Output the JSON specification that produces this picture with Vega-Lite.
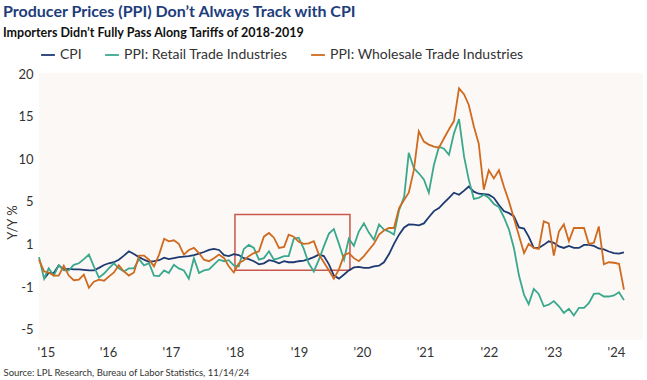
{
  "$schema": "https://vega.github.io/schema/vega-lite/v6.json",
  "width": 604,
  "height": 267,
  "autosize": {"type": "none"},
  "padding": {"left": 39, "top": 73, "right": 4, "bottom": 40},
  "background": "#ffffff",
  "title": {
    "text": "Producer Prices (PPI) Don’t Always Track with CPI",
    "subtitle": "Importers Didn’t Fully Pass Along Tariffs of 2018-2019",
    "anchor": "start",
    "frame": "group",
    "dx": -36,
    "offset": 8,
    "font": "Lato",
    "fontSize": 16,
    "fontWeight": "bold",
    "color": "#1e3d7b",
    "subtitleFont": "Lato",
    "subtitleFontSize": 12.5,
    "subtitleFontWeight": "bold",
    "subtitleColor": "#111111",
    "subtitlePadding": 7
  },
  "datasets": {
    "series": [
      {"date": "2015/01/01", "CPI": null, "PPI: Retail Trade Industries": 2.1, "PPI: Wholesale Trade Industries": 1.86},
      {"date": "2015/02/01", "CPI": 0.0, "PPI: Retail Trade Industries": 0.0, "PPI: Wholesale Trade Industries": 0.7},
      {"date": "2015/03/01", "CPI": 0.55, "PPI: Retail Trade Industries": 1.0, "PPI: Wholesale Trade Industries": 0.6},
      {"date": "2015/04/01", "CPI": 0.55, "PPI: Retail Trade Industries": 0.3, "PPI: Wholesale Trade Industries": 0.3},
      {"date": "2015/05/01", "CPI": 1.3, "PPI: Retail Trade Industries": 1.3, "PPI: Wholesale Trade Industries": 0.3},
      {"date": "2015/06/01", "CPI": 0.9, "PPI: Retail Trade Industries": 0.8, "PPI: Wholesale Trade Industries": 1.27},
      {"date": "2015/07/01", "CPI": 0.95, "PPI: Retail Trade Industries": 0.8, "PPI: Wholesale Trade Industries": 0.3},
      {"date": "2015/08/01", "CPI": 0.9, "PPI: Retail Trade Industries": 1.35, "PPI: Wholesale Trade Industries": -0.16},
      {"date": "2015/09/01", "CPI": 0.9, "PPI: Retail Trade Industries": 1.5, "PPI: Wholesale Trade Industries": -0.1},
      {"date": "2015/10/01", "CPI": 0.85, "PPI: Retail Trade Industries": 1.9, "PPI: Wholesale Trade Industries": 0.4},
      {"date": "2015/11/01", "CPI": 0.8, "PPI: Retail Trade Industries": 2.35, "PPI: Wholesale Trade Industries": -0.9},
      {"date": "2015/12/01", "CPI": 0.8, "PPI: Retail Trade Industries": 1.2, "PPI: Wholesale Trade Industries": -0.3},
      {"date": "2016/01/01", "CPI": 1.05, "PPI: Retail Trade Industries": 0.1, "PPI: Wholesale Trade Industries": -0.1},
      {"date": "2016/02/01", "CPI": 1.33, "PPI: Retail Trade Industries": 0.5, "PPI: Wholesale Trade Industries": -0.2},
      {"date": "2016/03/01", "CPI": 1.5, "PPI: Retail Trade Industries": 1.0, "PPI: Wholesale Trade Industries": 0.2},
      {"date": "2016/04/01", "CPI": 1.6, "PPI: Retail Trade Industries": 1.5, "PPI: Wholesale Trade Industries": 0.6},
      {"date": "2016/05/01", "CPI": 1.85, "PPI: Retail Trade Industries": 1.0, "PPI: Wholesale Trade Industries": 1.3},
      {"date": "2016/06/01", "CPI": 2.25, "PPI: Retail Trade Industries": 0.7, "PPI: Wholesale Trade Industries": 0.7},
      {"date": "2016/07/01", "CPI": 2.67, "PPI: Retail Trade Industries": 1.0, "PPI: Wholesale Trade Industries": 0.3},
      {"date": "2016/08/01", "CPI": 2.4, "PPI: Retail Trade Industries": 1.0, "PPI: Wholesale Trade Industries": 0.6},
      {"date": "2016/09/01", "CPI": 2.1, "PPI: Retail Trade Industries": 1.9, "PPI: Wholesale Trade Industries": 2.25},
      {"date": "2016/10/01", "CPI": 1.85, "PPI: Retail Trade Industries": 1.3, "PPI: Wholesale Trade Industries": 2.25},
      {"date": "2016/11/01", "CPI": 1.65, "PPI: Retail Trade Industries": 1.5, "PPI: Wholesale Trade Industries": 1.85},
      {"date": "2016/12/01", "CPI": 1.7, "PPI: Retail Trade Industries": 0.3, "PPI: Wholesale Trade Industries": 1.2},
      {"date": "2017/01/01", "CPI": 1.8, "PPI: Retail Trade Industries": 0.25, "PPI: Wholesale Trade Industries": 2.35},
      {"date": "2017/02/01", "CPI": 2.05, "PPI: Retail Trade Industries": 0.8, "PPI: Wholesale Trade Industries": 3.9},
      {"date": "2017/03/01", "CPI": 1.9, "PPI: Retail Trade Industries": 0.55, "PPI: Wholesale Trade Industries": 3.65},
      {"date": "2017/04/01", "CPI": 2.0, "PPI: Retail Trade Industries": 1.35, "PPI: Wholesale Trade Industries": 3.75},
      {"date": "2017/05/01", "CPI": 2.1, "PPI: Retail Trade Industries": 1.0, "PPI: Wholesale Trade Industries": 3.4},
      {"date": "2017/06/01", "CPI": 2.15, "PPI: Retail Trade Industries": 0.8, "PPI: Wholesale Trade Industries": 2.35},
      {"date": "2017/07/01", "CPI": 2.2, "PPI: Retail Trade Industries": 0.0, "PPI: Wholesale Trade Industries": 2.8},
      {"date": "2017/08/01", "CPI": 2.3, "PPI: Retail Trade Industries": 2.0, "PPI: Wholesale Trade Industries": 3.0},
      {"date": "2017/09/01", "CPI": 2.45, "PPI: Retail Trade Industries": 0.55, "PPI: Wholesale Trade Industries": 2.5},
      {"date": "2017/10/01", "CPI": 2.6, "PPI: Retail Trade Industries": 0.8, "PPI: Wholesale Trade Industries": 1.85},
      {"date": "2017/11/01", "CPI": 2.8, "PPI: Retail Trade Industries": 0.9, "PPI: Wholesale Trade Industries": 1.7},
      {"date": "2017/12/01", "CPI": 2.9, "PPI: Retail Trade Industries": 1.37, "PPI: Wholesale Trade Industries": 2.0},
      {"date": "2018/01/01", "CPI": 2.8, "PPI: Retail Trade Industries": 1.85, "PPI: Wholesale Trade Industries": 2.35},
      {"date": "2018/02/01", "CPI": 2.3, "PPI: Retail Trade Industries": 1.7, "PPI: Wholesale Trade Industries": 2.0},
      {"date": "2018/03/01", "CPI": 2.2, "PPI: Retail Trade Industries": 1.8, "PPI: Wholesale Trade Industries": 1.2},
      {"date": "2018/04/01", "CPI": 2.4, "PPI: Retail Trade Industries": 1.3, "PPI: Wholesale Trade Industries": 0.6},
      {"date": "2018/05/01", "CPI": 2.3, "PPI: Retail Trade Industries": 1.2, "PPI: Wholesale Trade Industries": 1.5},
      {"date": "2018/06/01", "CPI": 2.0, "PPI: Retail Trade Industries": 2.9, "PPI: Wholesale Trade Industries": 1.8},
      {"date": "2018/07/01", "CPI": 1.9, "PPI: Retail Trade Industries": 3.3, "PPI: Wholesale Trade Industries": 2.2},
      {"date": "2018/08/01", "CPI": 1.7, "PPI: Retail Trade Industries": 3.0, "PPI: Wholesale Trade Industries": 2.5},
      {"date": "2018/09/01", "CPI": 1.4, "PPI: Retail Trade Industries": 1.85, "PPI: Wholesale Trade Industries": 2.67},
      {"date": "2018/10/01", "CPI": 1.5, "PPI: Retail Trade Industries": 2.0, "PPI: Wholesale Trade Industries": 4.1},
      {"date": "2018/11/01", "CPI": 1.8, "PPI: Retail Trade Industries": 2.67, "PPI: Wholesale Trade Industries": 4.46},
      {"date": "2018/12/01", "CPI": 1.7, "PPI: Retail Trade Industries": 1.85, "PPI: Wholesale Trade Industries": 4.0},
      {"date": "2019/01/01", "CPI": 1.5, "PPI: Retail Trade Industries": 2.0, "PPI: Wholesale Trade Industries": 3.0},
      {"date": "2019/02/01", "CPI": 1.7, "PPI: Retail Trade Industries": 2.2, "PPI: Wholesale Trade Industries": 3.1},
      {"date": "2019/03/01", "CPI": 1.6, "PPI: Retail Trade Industries": 2.2, "PPI: Wholesale Trade Industries": 4.3},
      {"date": "2019/04/01", "CPI": 1.6, "PPI: Retail Trade Industries": 3.9, "PPI: Wholesale Trade Industries": 4.1},
      {"date": "2019/05/01", "CPI": 1.7, "PPI: Retail Trade Industries": 4.0, "PPI: Wholesale Trade Industries": 3.6},
      {"date": "2019/06/01", "CPI": 1.75, "PPI: Retail Trade Industries": 2.9, "PPI: Wholesale Trade Industries": 3.4},
      {"date": "2019/07/01", "CPI": 1.9, "PPI: Retail Trade Industries": 1.5, "PPI: Wholesale Trade Industries": 3.45},
      {"date": "2019/08/01", "CPI": 2.1, "PPI: Retail Trade Industries": 0.7, "PPI: Wholesale Trade Industries": 3.65},
      {"date": "2019/09/01", "CPI": 2.35, "PPI: Retail Trade Industries": 1.85, "PPI: Wholesale Trade Industries": 2.35},
      {"date": "2019/10/01", "CPI": 2.2, "PPI: Retail Trade Industries": 3.15, "PPI: Wholesale Trade Industries": 1.6},
      {"date": "2019/11/01", "CPI": 1.4, "PPI: Retail Trade Industries": 4.4, "PPI: Wholesale Trade Industries": 0.8},
      {"date": "2019/12/01", "CPI": 0.3, "PPI: Retail Trade Industries": 4.85, "PPI: Wholesale Trade Industries": 0.0},
      {"date": "2020/01/01", "CPI": 0.0, "PPI: Retail Trade Industries": 3.4, "PPI: Wholesale Trade Industries": 0.9},
      {"date": "2020/02/01", "CPI": 0.4, "PPI: Retail Trade Industries": 1.85, "PPI: Wholesale Trade Industries": 2.3},
      {"date": "2020/03/01", "CPI": 0.8, "PPI: Retail Trade Industries": 3.9, "PPI: Wholesale Trade Industries": 2.5},
      {"date": "2020/04/01", "CPI": 1.1, "PPI: Retail Trade Industries": 3.2, "PPI: Wholesale Trade Industries": 2.0},
      {"date": "2020/05/01", "CPI": 1.15, "PPI: Retail Trade Industries": 4.6, "PPI: Wholesale Trade Industries": 1.7},
      {"date": "2020/06/01", "CPI": 1.05, "PPI: Retail Trade Industries": 5.4, "PPI: Wholesale Trade Industries": 2.2},
      {"date": "2020/07/01", "CPI": 1.05, "PPI: Retail Trade Industries": 4.5, "PPI: Wholesale Trade Industries": 2.8},
      {"date": "2020/08/01", "CPI": 1.2, "PPI: Retail Trade Industries": 3.8, "PPI: Wholesale Trade Industries": 3.4},
      {"date": "2020/09/01", "CPI": 1.27, "PPI: Retail Trade Industries": 5.3, "PPI: Wholesale Trade Industries": 4.3},
      {"date": "2020/10/01", "CPI": 1.6, "PPI: Retail Trade Industries": 4.8, "PPI: Wholesale Trade Industries": 4.7},
      {"date": "2020/11/01", "CPI": 2.4, "PPI: Retail Trade Industries": 4.6, "PPI: Wholesale Trade Industries": 4.95},
      {"date": "2020/12/01", "CPI": 3.4, "PPI: Retail Trade Industries": 4.3, "PPI: Wholesale Trade Industries": 4.95},
      {"date": "2021/01/01", "CPI": 4.3, "PPI: Retail Trade Industries": 6.7, "PPI: Wholesale Trade Industries": 6.9},
      {"date": "2021/02/01", "CPI": 5.0, "PPI: Retail Trade Industries": 8.0, "PPI: Wholesale Trade Industries": 7.7},
      {"date": "2021/03/01", "CPI": 5.3, "PPI: Retail Trade Industries": 12.3, "PPI: Wholesale Trade Industries": 8.4},
      {"date": "2021/04/01", "CPI": 5.27, "PPI: Retail Trade Industries": 10.8, "PPI: Wholesale Trade Industries": 10.6},
      {"date": "2021/05/01", "CPI": 5.2, "PPI: Retail Trade Industries": 10.3, "PPI: Wholesale Trade Industries": 14.4},
      {"date": "2021/06/01", "CPI": 5.4, "PPI: Retail Trade Industries": 9.7, "PPI: Wholesale Trade Industries": 13.4},
      {"date": "2021/07/01", "CPI": 6.0, "PPI: Retail Trade Industries": 8.4, "PPI: Wholesale Trade Industries": 13.1},
      {"date": "2021/08/01", "CPI": 6.6, "PPI: Retail Trade Industries": 11.1, "PPI: Wholesale Trade Industries": 12.9},
      {"date": "2021/09/01", "CPI": 6.9, "PPI: Retail Trade Industries": 12.9, "PPI: Wholesale Trade Industries": 12.8},
      {"date": "2021/10/01", "CPI": 7.4, "PPI: Retail Trade Industries": 12.7, "PPI: Wholesale Trade Industries": 13.7},
      {"date": "2021/11/01", "CPI": 7.9, "PPI: Retail Trade Industries": 12.1, "PPI: Wholesale Trade Industries": 14.6},
      {"date": "2021/12/01", "CPI": 8.4, "PPI: Retail Trade Industries": 14.2, "PPI: Wholesale Trade Industries": 15.4},
      {"date": "2022/01/01", "CPI": 8.2, "PPI: Retail Trade Industries": 15.6, "PPI: Wholesale Trade Industries": 18.6},
      {"date": "2022/02/01", "CPI": 8.6, "PPI: Retail Trade Industries": 11.9, "PPI: Wholesale Trade Industries": 18.0},
      {"date": "2022/03/01", "CPI": 9.0, "PPI: Retail Trade Industries": 9.7, "PPI: Wholesale Trade Industries": 17.0},
      {"date": "2022/04/01", "CPI": 8.5, "PPI: Retail Trade Industries": 7.8, "PPI: Wholesale Trade Industries": 14.9},
      {"date": "2022/05/01", "CPI": 8.3, "PPI: Retail Trade Industries": 7.9, "PPI: Wholesale Trade Industries": 13.2},
      {"date": "2022/06/01", "CPI": 8.25, "PPI: Retail Trade Industries": 8.2, "PPI: Wholesale Trade Industries": 8.7},
      {"date": "2022/07/01", "CPI": 8.2, "PPI: Retail Trade Industries": 7.9, "PPI: Wholesale Trade Industries": 10.6},
      {"date": "2022/08/01", "CPI": 7.9, "PPI: Retail Trade Industries": 7.3, "PPI: Wholesale Trade Industries": 9.8},
      {"date": "2022/09/01", "CPI": 7.2, "PPI: Retail Trade Industries": 7.0, "PPI: Wholesale Trade Industries": 10.6},
      {"date": "2022/10/01", "CPI": 6.6, "PPI: Retail Trade Industries": 6.0, "PPI: Wholesale Trade Industries": 9.0},
      {"date": "2022/11/01", "CPI": 6.4, "PPI: Retail Trade Industries": 4.8, "PPI: Wholesale Trade Industries": 7.55},
      {"date": "2022/12/01", "CPI": 6.1, "PPI: Retail Trade Industries": 3.0, "PPI: Wholesale Trade Industries": 5.9},
      {"date": "2023/01/01", "CPI": 5.0, "PPI: Retail Trade Industries": 0.3, "PPI: Wholesale Trade Industries": 4.2},
      {"date": "2023/02/01", "CPI": 4.9, "PPI: Retail Trade Industries": -1.6, "PPI: Wholesale Trade Industries": 2.5},
      {"date": "2023/03/01", "CPI": 4.1, "PPI: Retail Trade Industries": -2.5, "PPI: Wholesale Trade Industries": 3.4},
      {"date": "2023/04/01", "CPI": 3.0, "PPI: Retail Trade Industries": -1.0, "PPI: Wholesale Trade Industries": 3.0},
      {"date": "2023/05/01", "CPI": 3.0, "PPI: Retail Trade Industries": -1.5, "PPI: Wholesale Trade Industries": 2.9},
      {"date": "2023/06/01", "CPI": 3.3, "PPI: Retail Trade Industries": -2.7, "PPI: Wholesale Trade Industries": 5.6},
      {"date": "2023/07/01", "CPI": 3.65, "PPI: Retail Trade Industries": -2.55, "PPI: Wholesale Trade Industries": 5.4},
      {"date": "2023/08/01", "CPI": 3.5, "PPI: Retail Trade Industries": -2.2, "PPI: Wholesale Trade Industries": 2.25},
      {"date": "2023/09/01", "CPI": 3.15, "PPI: Retail Trade Industries": -2.7, "PPI: Wholesale Trade Industries": 4.6},
      {"date": "2023/10/01", "CPI": 3.0, "PPI: Retail Trade Industries": -3.35, "PPI: Wholesale Trade Industries": 5.3},
      {"date": "2023/11/01", "CPI": 3.2, "PPI: Retail Trade Industries": -2.95, "PPI: Wholesale Trade Industries": 3.65},
      {"date": "2023/12/01", "CPI": 3.0, "PPI: Retail Trade Industries": -3.6, "PPI: Wholesale Trade Industries": 4.95},
      {"date": "2024/01/01", "CPI": 3.0, "PPI: Retail Trade Industries": -2.85, "PPI: Wholesale Trade Industries": 4.95},
      {"date": "2024/02/01", "CPI": 3.3, "PPI: Retail Trade Industries": -2.85, "PPI: Wholesale Trade Industries": 4.95},
      {"date": "2024/03/01", "CPI": 3.3, "PPI: Retail Trade Industries": -2.4, "PPI: Wholesale Trade Industries": 3.4},
      {"date": "2024/04/01", "CPI": 3.2, "PPI: Retail Trade Industries": -1.5, "PPI: Wholesale Trade Industries": 3.5},
      {"date": "2024/05/01", "CPI": 2.95, "PPI: Retail Trade Industries": -1.45, "PPI: Wholesale Trade Industries": 5.1},
      {"date": "2024/06/01", "CPI": 2.85, "PPI: Retail Trade Industries": -1.75, "PPI: Wholesale Trade Industries": 1.4},
      {"date": "2024/07/01", "CPI": 2.65, "PPI: Retail Trade Industries": -1.75, "PPI: Wholesale Trade Industries": 1.6},
      {"date": "2024/08/01", "CPI": 2.5, "PPI: Retail Trade Industries": -1.65, "PPI: Wholesale Trade Industries": 1.55},
      {"date": "2024/09/01", "CPI": 2.44, "PPI: Retail Trade Industries": -1.33, "PPI: Wholesale Trade Industries": 1.45},
      {"date": "2024/10/01", "CPI": 2.57, "PPI: Retail Trade Industries": -2.1, "PPI: Wholesale Trade Industries": -1.07}
    ],
    "box": [
      {"start": "2018/04/08", "end": "2020/03/08", "low": 0.83, "high": 6.28}
    ]
  },
  "layer": [
    {
      "data": {"name": "box"},
      "mark": {"type": "rect", "fill": null, "stroke": "#c9574d", "strokeWidth": 1.5},
      "encoding": {
        "x": {"field": "start", "type": "temporal"},
        "x2": {"field": "end"},
        "y": {"field": "low", "type": "quantitative"},
        "y2": {"field": "high"}
      }
    },
    {
      "mark": {"type": "rule", "color": "#b3b3b3", "strokeWidth": 1.5},
      "encoding": {"y": {"datum": 0}}
    },
    {
      "data": {"name": "series"},
      "transform": [
        {"fold": ["CPI", "PPI: Retail Trade Industries", "PPI: Wholesale Trade Industries"], "as": ["series", "value"]}
      ],
      "mark": {"type": "line", "strokeWidth": 1.8, "strokeJoin": "miter"},
      "encoding": {
        "x": {
          "field": "date",
          "type": "temporal",
          "scale": {"domain": [{"year": 2015, "month": 1, "date": 1}, {"year": 2025, "month": 1, "date": 25}], "nice": false, "padding": 0},
          "axis": {
            "title": "Source: LPL Research, Bureau of Labor Statistics, 11/14/24",
            "titleFont": "Lato",
            "titleFontSize": 9.5,
            "titleFontWeight": "normal",
            "titleColor": "#333333",
            "titleAnchor": "start",
            "titleAlign": "left",
            "titleBaseline": "middle",
            "titleX": -36,
            "titleY": 32,
            "values": [
              {"year": 2015, "month": 2, "date": 12},
              {"year": 2016, "month": 2, "date": 25},
              {"year": 2017, "month": 3, "date": 14},
              {"year": 2018, "month": 4, "date": 8},
              {"year": 2019, "month": 5, "date": 3},
              {"year": 2020, "month": 5, "date": 20},
              {"year": 2021, "month": 6, "date": 8},
              {"year": 2022, "month": 7, "date": 2},
              {"year": 2023, "month": 7, "date": 27},
              {"year": 2024, "month": 8, "date": 13}
            ],
            "format": "'%y",
            "labelFont": "Lato",
            "labelFontSize": 13,
            "labelColor": "#333333",
            "labelPadding": 6,
            "ticks": false,
            "domain": false,
            "grid": false
          }
        },
        "y": {
          "field": "value",
          "type": "quantitative",
          "scale": {"domain": [-6, 20.1], "nice": false, "zero": false},
          "axis": {
            "title": "Y/Y %",
            "titleFont": "Lato",
            "titleFontSize": 13,
            "titleFontWeight": "normal",
            "titleColor": "#333333",
            "titleX": -27,
            "titleY": 149,
            "titleAngle": -90,
            "titleAlign": "center",
            "titleBaseline": "middle",
            "values": [-5, -0.8333, 3.3333, 7.5, 11.6667, 15.8333, 20],
            "labelExpr": "datum.value > 19 ? '20' : datum.value > 15 ? '15' : datum.value > 11 ? '10' : datum.value > 7 ? '5' : datum.value > 3 ? '1' : datum.value > -1 ? '-1' : '-5'",
            "labelFont": "Lato",
            "labelFontSize": 13,
            "labelColor": "#333333",
            "labelPadding": 6,
            "ticks": false,
            "domain": false,
            "grid": false
          }
        },
        "color": {
          "field": "series",
          "type": "nominal",
          "scale": {
            "domain": ["CPI", "PPI: Retail Trade Industries", "PPI: Wholesale Trade Industries"],
            "range": ["#1d3a73", "#3aa88c", "#cf6a1e"]
          },
          "legend": {
            "title": null,
            "orient": "none",
            "legendX": 1,
            "legendY": -26,
            "direction": "horizontal",
            "symbolType": "stroke",
            "symbolSize": 190,
            "symbolStrokeWidth": 1.8,
            "labelFont": "Lato",
            "labelFontSize": 14,
            "labelColor": "#333333",
            "labelOffset": 4,
            "labelLimit": 400,
            "columnPadding": 19
          }
        }
      }
    }
  ],
  "config": {
    "view": {"stroke": null, "fill": "#fbf8f6"}
  }
}
